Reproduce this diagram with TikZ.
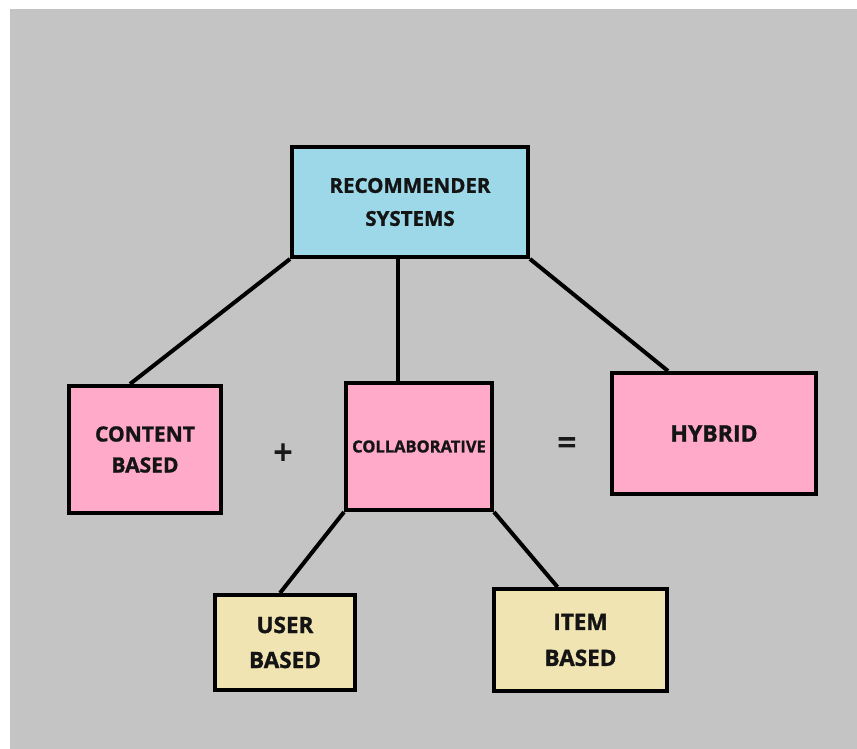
\documentclass[tikz,border=0pt]{standalone}
\usepackage{fontspec}
\setmainfont{Open Sans}[BoldFeatures={FakeBold=1.2}]
\newfontfamily\symfont{Open Sans}[UprightFeatures={FakeBold=3}]
\definecolor{bgray}{RGB}{196,196,196}
\definecolor{rblue}{RGB}{157,216,232}
\definecolor{rpink}{RGB}{255,170,200}
\definecolor{ryellow}{RGB}{240,228,178}
\begin{document}
\begin{tikzpicture}[x=1pt,y=-1pt,
  box/.style={draw=black,line width=4pt,align=center,inner sep=0pt,text=black!92},
  link/.style={draw=black,line width=4pt},
  sym/.style={font=\symfont\fontsize{34}{34}\selectfont,text=black!90,inner sep=0pt}]
\useasboundingbox (0,0) rectangle (857,749);
\fill[white] (0,0) rectangle (857,749);
\fill[bgray] (10,9) rectangle (857,749);
\node[box,fill=rblue,minimum width=236pt,minimum height=110pt,font=\bfseries\fontsize{20.5}{33}\selectfont] (top) at (410,202) {RECOMMENDER\\SYSTEMS};
\node[box,fill=rpink,minimum width=152pt,minimum height=127pt,font=\bfseries\fontsize{21}{31}\selectfont] (content) at (145,449.5) {CONTENT\\BASED};
\node[box,fill=rpink,minimum width=146pt,minimum height=127pt,font=\bfseries\fontsize{16.5}{18}\selectfont] (collab) at (419,446.5) {COLLABORATIVE};
\node[box,fill=rpink,minimum width=204pt,minimum height=121pt,font=\bfseries\fontsize{23}{30}\selectfont] (hybrid) at (714,433.5) {HYBRID};
\node[box,fill=ryellow,minimum width=140pt,minimum height=95pt,font=\bfseries\fontsize{22.5}{35}\selectfont] (user) at (285,642.5) {USER\\BASED};
\node[box,fill=ryellow,minimum width=173pt,minimum height=102pt,font=\bfseries\fontsize{22.5}{36}\selectfont] (item) at (580.5,640) {ITEM\\BASED};
\node[sym] (plus) at (283,454) {+};
\node[sym] (eq) at (567,446) {=};
\draw[link] (top.south west) -- ([xshift=-15pt]content.north);
\draw[link] ([xshift=-12pt]top.south) -- ([xshift=-21pt]collab.north);
\draw[link] (top.south east) -- ([xshift=-46pt]hybrid.north);
\draw[link] (collab.south west) -- ([xshift=-5pt]user.north);
\draw[link] (collab.south east) -- ([xshift=-23pt]item.north);
\end{tikzpicture}
\end{document}
